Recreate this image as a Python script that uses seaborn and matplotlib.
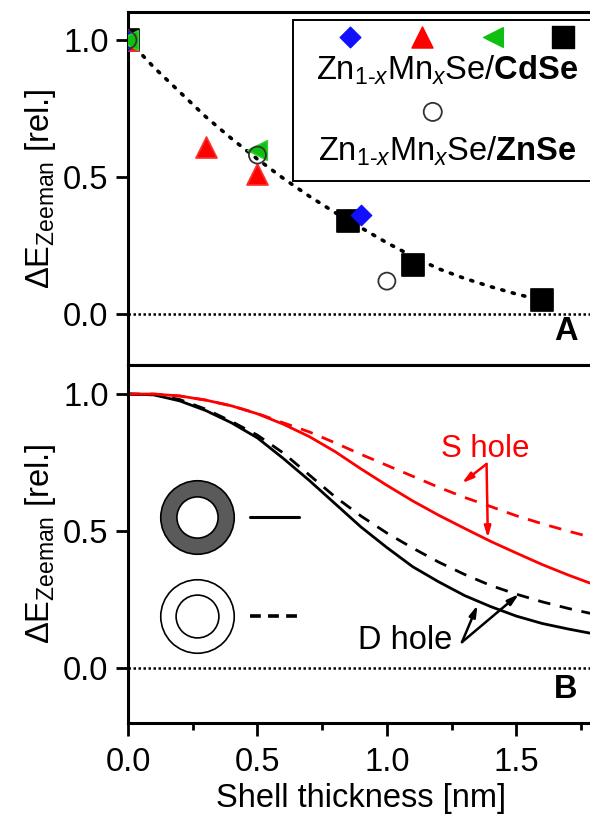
import numpy as np
import pandas as pd
import matplotlib
matplotlib.use("Agg")
import matplotlib.pyplot as plt
import seaborn as sns
from matplotlib.patches import Rectangle

# ---------------- Panel A data ----------------
sq_x = [0.0, 0.85, 1.10, 1.60]
sq_y = [1.0, 0.34, 0.18, 0.05]
dia_x = [0.0, 0.90]
dia_y = [1.0, 0.36]
tri_x = [0.0, 0.30, 0.50]
tri_y = [1.0, 0.61, 0.51]
ltri_x = [0.0, 0.50]
ltri_y = [1.0, 0.60]
circ_x = [0.0, 0.50, 1.00]
circ_y = [1.0, 0.58, 0.12]
fit_x = [0.0, 0.1, 0.2, 0.3, 0.4, 0.5, 0.6, 0.7, 0.8, 0.9, 1.0, 1.1, 1.2, 1.3, 1.4, 1.5, 1.6]
fit_y = [1.0, 0.90, 0.81, 0.72, 0.64, 0.565, 0.495, 0.43, 0.37, 0.315, 0.26, 0.21, 0.165, 0.13, 0.10, 0.073, 0.05]

# ---------------- Panel B data ----------------
shell_x = [0.0, 0.1, 0.2, 0.3, 0.4, 0.5, 0.6, 0.7, 0.8, 0.9, 1.0, 1.1, 1.2, 1.3, 1.4, 1.5, 1.6, 1.7, 1.8]
s_solid = [1.0, 1.0, 0.993, 0.978, 0.957, 0.928, 0.89, 0.845, 0.79, 0.727, 0.667, 0.61, 0.558, 0.51, 0.463, 0.42, 0.378, 0.34, 0.305]
s_dash = [1.0, 1.0, 0.993, 0.978, 0.957, 0.929, 0.895, 0.862, 0.822, 0.78, 0.74, 0.70, 0.66, 0.623, 0.59, 0.556, 0.527, 0.50, 0.475]
d_solid = [1.0, 0.997, 0.975, 0.94, 0.895, 0.84, 0.765, 0.685, 0.60, 0.515, 0.44, 0.37, 0.315, 0.265, 0.225, 0.19, 0.163, 0.143, 0.125]
d_dash = [1.0, 0.998, 0.98, 0.945, 0.90, 0.85, 0.785, 0.705, 0.625, 0.555, 0.493, 0.438, 0.387, 0.342, 0.302, 0.27, 0.242, 0.218, 0.197]

yticks = [0.0, 0.5, 1.0]
ytick_labels = ["0.0", "0.5", "1.0"]
xticks = [0.0, 0.5, 1.0, 1.5]
xtick_labels = ["0.0", "0.5", "1.0", "1.5"]

sns.set_theme(style="ticks")
plt.rcParams["font.family"] = ["Liberation Sans", "DejaVu Sans"]
plt.rcParams["mathtext.fontset"] = "custom"
plt.rcParams["mathtext.rm"] = "Liberation Sans"
plt.rcParams["mathtext.it"] = "Liberation Sans:italic"
plt.rcParams["mathtext.bf"] = "Liberation Sans:bold"
plt.rcParams["text.color"] = "black"
plt.rcParams["axes.labelcolor"] = "black"
plt.rcParams["xtick.color"] = "black"
plt.rcParams["ytick.color"] = "black"

FS = 23.5
fig = plt.figure(figsize=(5.9, 8.16), dpi=100)
left = 128 / 590
width = (594 - 128) / 590
axA = fig.add_axes([left, 1 - 365 / 816, width, 353 / 816])
axB = fig.add_axes([left, 1 - 723 / 816, width, 358 / 816], sharex=axA)

for ax in (axA, axB):
    for s in ax.spines.values():
        s.set_linewidth(2.2)
        s.set_color("black")
    ax.spines["right"].set_visible(False)
    ax.set_yticks(yticks)
    ax.set_yticklabels(ytick_labels)
    ax.tick_params(axis="y", length=9, width=2.0, pad=5, labelsize=FS,
                   colors="black", labelcolor="black")
    ax.axhline(0, color="black", lw=1.8, ls=(0, (1, 1)), zorder=1)
    ax.set_ylabel(r"$\Delta$E$_{\mathrm{Zeeman}}$ [rel.]", fontsize=FS, color="black")

axA.set_xlim(0, 1.8)
axA.set_ylim(-0.186, 1.102)
axB.set_ylim(-0.20, 1.106)
axA.tick_params(axis="x", which="both", bottom=False, labelbottom=False)

# --- Panel A ---
sns.lineplot(x=fit_x, y=fit_y, ax=axA, color="black", lw=2.6,
             ls=(0, (0.6, 2.4)), zorder=2)
axA.lines[-1].set_dash_capstyle("round")

mk = dict(ax=axA, legend=False, zorder=3)
sns.scatterplot(x=sq_x, y=sq_y, marker="s", s=240, color="black", edgecolor="black", **mk)
sns.scatterplot(x=tri_x, y=tri_y, marker="^", s=230, color="#ff0000", edgecolor="#ff3030", **mk)
sns.scatterplot(x=dia_x, y=dia_y, marker="D", s=110, color="#1010ff", edgecolor="#1010ff", **mk)
sns.scatterplot(x=ltri_x, y=ltri_y, marker="<", s=200, color="#10c010", edgecolor="#30d030", **mk)
sns.scatterplot(x=circ_x, y=circ_y, marker="o", s=150, facecolor="none", edgecolor="#333333",
                linewidth=1.3, **mk)

# legend box (drawn manually)
axA.add_patch(Rectangle((0.354, 0.521), 0.7, 0.456, transform=axA.transAxes,
                        fill=True, facecolor="white", edgecolor="black", lw=1.4,
                        zorder=4, clip_on=False))
ly = 0.929
axA.scatter([0.476], [ly], marker="D", s=110, color="#1010ff", transform=axA.transAxes, zorder=5, clip_on=False)
axA.scatter([0.631], [ly], marker="^", s=230, color="#ff0000", transform=axA.transAxes, zorder=5, clip_on=False)
axA.scatter([0.783], [ly], marker="<", s=200, color="#10c010", transform=axA.transAxes, zorder=5, clip_on=False)
axA.scatter([0.933], [ly], marker="s", s=240, color="black", transform=axA.transAxes, zorder=5, clip_on=False)
axA.scatter([0.654], [0.717], marker="o", s=170, facecolor="none", edgecolor="#333333", lw=1.3,
            transform=axA.transAxes, zorder=5, clip_on=False)
axA.text(0.685, 0.836, r"Zn$_{\text{1-}x}$Mn$_x$Se/$\mathbf{CdSe}$", transform=axA.transAxes,
         ha="center", va="center", fontsize=FS, zorder=6)
axA.text(0.685, 0.605, r"Zn$_{\text{1-}x}$Mn$_x$Se/$\mathbf{ZnSe}$", transform=axA.transAxes,
         ha="center", va="center", fontsize=FS, zorder=6)
axA.text(0.94, 0.05, "A", transform=axA.transAxes, ha="center", va="bottom",
         fontsize=FS, fontweight="bold")

# --- Panel B ---
df = pd.DataFrame({"x": shell_x, "s_solid": s_solid, "s_dash": s_dash,
                   "d_solid": d_solid, "d_dash": d_dash})
sns.lineplot(data=df, x="x", y="s_dash", ax=axB, color="#ff0000", lw=2.0, ls=(0, (4.5, 3.5)))
sns.lineplot(data=df, x="x", y="d_dash", ax=axB, color="black", lw=2.0, ls=(0, (4.5, 3.5)))
sns.lineplot(data=df, x="x", y="d_solid", ax=axB, color="black", lw=2.0)
sns.lineplot(data=df, x="x", y="s_solid", ax=axB, color="#ff0000", lw=2.0)
axB.set_ylabel(r"$\Delta$E$_{\mathrm{Zeeman}}$ [rel.]", fontsize=FS, color="black")
axB.set_xlabel("Shell thickness [nm]", fontsize=FS, labelpad=4, color="black")
axB.set_xticks(xticks)
axB.set_xticklabels(xtick_labels)
axB.set_xticks([0.25, 0.75, 1.25, 1.75], minor=True)
axB.tick_params(axis="x", which="major", length=9, width=2.0, pad=8, labelsize=FS,
                colors="black", labelcolor="black")
axB.tick_params(axis="x", which="minor", length=5, width=2.0, colors="black")
axB.set_xlim(0, 1.8)

# ring icons
axB.scatter([0.266], [0.55], s=2800, color="#5a5a5a", edgecolor="black", lw=1.2, zorder=3)
axB.scatter([0.266], [0.55], s=880, color="white", edgecolor="black", lw=1.2, zorder=4)
axB.scatter([0.266], [0.19], s=2800, color="white", edgecolor="black", lw=1.2, zorder=3)
axB.scatter([0.266], [0.19], s=950, color="white", edgecolor="black", lw=1.2, zorder=4)
axB.plot([0.47, 0.66], [0.55, 0.55], color="black", lw=2.2)
axB.plot([0.47, 0.66], [0.19, 0.19], color="black", lw=2.6, ls=(0, (3.0, 2.0)))

# annotations
axB.text(1.38, 0.80, "S hole", color="#ff0000", fontsize=FS - 1, ha="center", va="center")
ap_r = dict(arrowstyle="-|>,head_length=0.55,head_width=0.16", color="#ff0000", lw=1.8, shrinkA=0, shrinkB=0)
axB.annotate("", xy=(1.29, 0.675), xytext=(1.385, 0.745), arrowprops=ap_r)
axB.annotate("", xy=(1.39, 0.475), xytext=(1.385, 0.745), arrowprops=ap_r)
axB.text(1.07, 0.10, "D hole", color="black", fontsize=FS, ha="center", va="center")
ap_k = dict(arrowstyle="-|>,head_length=0.55,head_width=0.16", color="black", lw=1.8, shrinkA=0, shrinkB=0)
axB.annotate("", xy=(1.35, 0.23), xytext=(1.29, 0.095), arrowprops=ap_k)
axB.annotate("", xy=(1.51, 0.27), xytext=(1.29, 0.095), arrowprops=ap_k)
axB.text(0.94, 0.05, "B", transform=axB.transAxes, ha="center", va="bottom",
         fontsize=FS, fontweight="bold")

for ax in (axA, axB):
    ax.yaxis.set_label_coords(-0.15, 0.5)

fig.savefig("out.png", dpi=100)
